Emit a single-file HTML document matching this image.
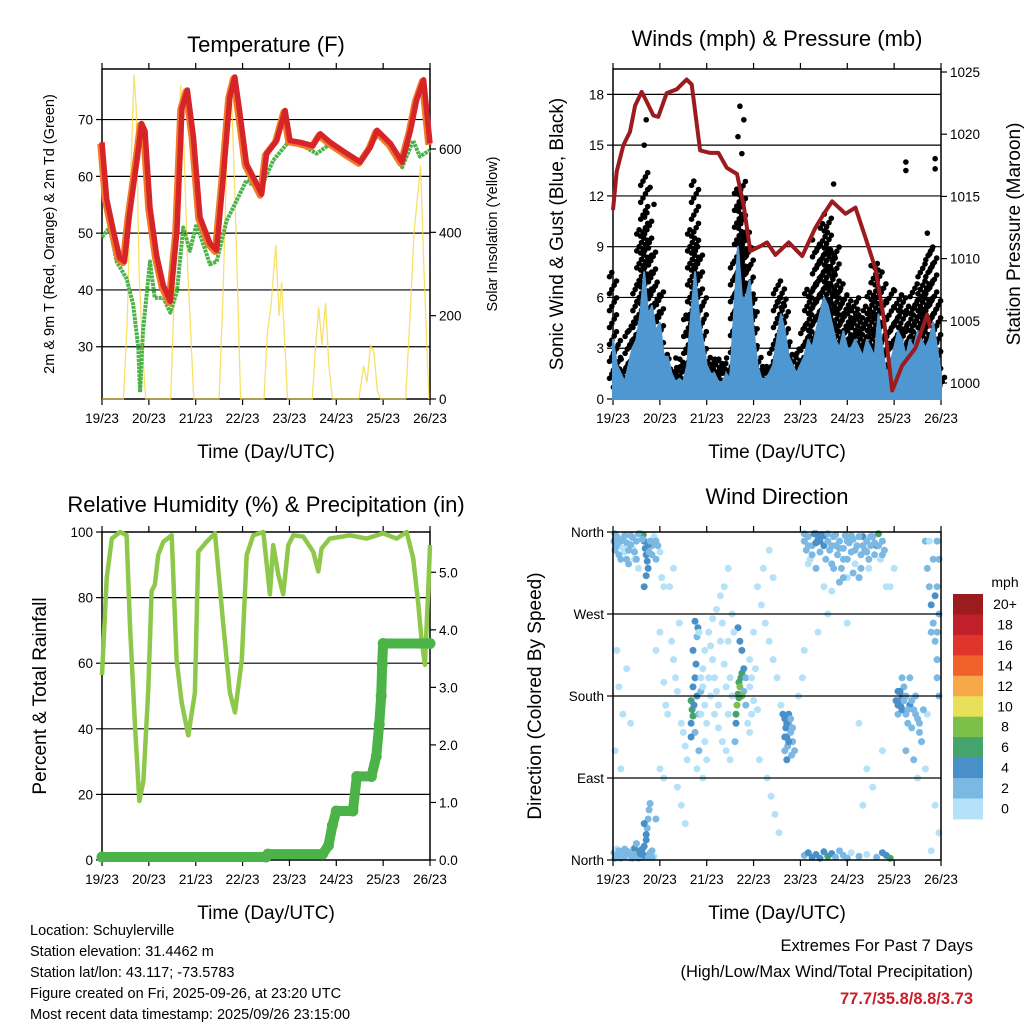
<!DOCTYPE html>
<html><head><meta charset="utf-8">
<style>
html,body{margin:0;padding:0;background:#fff;}
svg{display:block;font-family:"Liberation Sans",Arial,sans-serif;}
</style></head>
<body>
<svg id="chart" width="1024" height="1024" viewBox="0 0 1024 1024" xmlns="http://www.w3.org/2000/svg">
<rect width="1024" height="1024" fill="#fff"/>
<g id="p1"></g>
<g id="p2"></g>
<g id="p3"></g>
<g id="p4"></g>
<g font-size="14.5" fill="#000">
<text x="30" y="935">Location: Schuylerville</text>
<text x="30" y="956">Station elevation: 31.4462 m</text>
<text x="30" y="977">Station lat/lon: 43.117; -73.5783</text>
<text x="30" y="998">Figure created on Fri, 2025-09-26, at 23:20 UTC</text>
<text x="30" y="1019">Most recent data timestamp: 2025/09/26 23:15:00</text>
</g>
<g text-anchor="end">
<text x="973" y="951" font-size="16.5">Extremes For Past 7 Days</text>
<text x="973" y="977" font-size="16.5">(High/Low/Max Wind/Total Precipitation)</text>
<text x="973" y="1004" font-size="16.5" font-weight="bold" fill="#c8202a">77.7/35.8/8.8/3.73</text>
</g>
</svg>
<script>
// ---- data ----
const dayLabels = ["19/23","20/23","21/23","22/23","23/23","24/23","25/23","26/23"];
const tempT = [0,2.4,5.8,9,11.5,14,18,20.3,22,24.6,28,31.4,35,38.4,41,43.7,46.8,50.2,55.3,58.7,62,65.5,68,70.7,74,79.2,81.8,84.3,89.5,93.8,96.3,101.4,108,111.8,116.9,125.5,132.3,137.5,140.9,147.7,153.7,158,161.2,164.7,168];
const tempV = [66,56,50.5,45.7,45,53,63,69.3,68,54.5,46,40.8,38,50.5,72,75.2,67,52.8,48.2,47,59.3,74,77.5,71,62.2,58.7,56.9,64,66.3,71.6,66.3,66,65.4,67.5,66,64,62.5,65.2,68.1,65.8,62.5,68.1,73.5,77,65.8];
const dewT = [0,4,7.5,12.6,16,18.6,19.5,21,24.6,27,31.4,35,38.4,41.6,45,48.4,55.3,58.7,63.8,67.2,74,80.9,87.7,95.4,101.4,109.9,116.9,125.5,132.3,140.9,147.7,153.7,159.4,162.8,168];
const dewV = [49.3,51,45,42,37.4,29.8,22,32.8,45,38.6,38.6,36,39.8,51,46.9,51.6,44.5,45,52.2,54.5,59.3,57.5,62.8,66,65.7,64,65.7,64,62.5,67.2,65.8,61.6,66.3,63.5,64.6];
const solarT = [0,11,13,14.5,16.4,17.5,19,21,22.4,35.2,37,38.5,40.3,42,44,47,60,62,64,66,68,69.5,71,83,84.7,86.5,89,90.7,92,94,95,107.7,109.3,111,112.7,114.5,116.2,118,131.6,134,135.7,137.6,139.3,141,142.7,155.5,158,159.8,161.5,163.2,165,166.6,167.5];
const solarV = [0,0,200,500,778,700,300,100,0,0,250,550,754,600,300,0,0,250,600,770,500,250,0,0,160,220,370,200,280,100,0,0,120,220,130,230,80,0,0,80,40,130,110,20,0,0,220,400,480,560,300,100,0];
const windT = [0,2,4,6,8,10,12,14,16,18,20,22,24,26,28,30,32,34,36,38,40,42,44,46,48,50,52,54,56,58,60,62,64,66,68,70,72,74,76,78,80,82,84,86,88,90,92,94,96,98,100,102,104,106,108,110,112,114,116,118,120,122,124,126,128,130,132,134,136,138,140,142,144,146,148,150,152,154,156,158,160,162,164,166,168];
const windSpd = [3.5,2,1.5,1,2,3,3.5,5,7.5,5,5.5,4,4.5,2.5,2.5,1.5,1,1.2,1,2,5,7.5,5,3.5,2,1.5,1.5,1,1,1.5,1.2,5,9,6,6,7,4,2,1.2,1.2,1.5,2,3.5,5,4,2.5,2,1.5,2,2.5,3.5,3,4,5,6,5.5,4.5,3.5,3,4,3,3,3.5,3,2.5,3.5,3,2.5,5,3,1.5,2,3,4,3.5,2.5,3.5,3,4,3.5,3,3.5,4.5,3,1.5];
const windGust = [7.5,3.5,2,2.5,4,5,7,10,13.5,11,9,7,6.5,3,2.5,2,2,2.5,2.5,5,10,13,9,6,3,2.5,2.5,2.5,2.5,2,2.5,8,12.5,13,10,9,6,3,2,2,2,3,7,6.5,6,3.5,2.5,2.5,3,4.5,6.5,7,9.5,9,10.5,11,9,9,7,6.5,6,5.5,6,5.5,5,5.5,6.5,8,8,7,4,6.5,5,6.5,6,4.5,5.5,7,6,8,7,9,9,6,2];
const gustOutT = [16,17,19,21,64,65,67,66,113,150,150,165,165,161];
const gustOutV = [15,16.5,12.5,11.5,15.5,17.3,16.5,14.5,12.7,14,13.5,14.2,13.6,9.8];
const presT = [0,1.9,5.3,8.7,11.3,14.7,17.3,20.7,23.2,27.5,32.6,37.7,40.3,44.6,49.8,54,58.3,63.5,66.9,70.3,75.5,78.9,83.2,90,96.9,103.7,108,112.2,119.1,124.2,129.3,134.4,138.7,143,148.1,154.9,160.9,162.6];
const presV = [1013.9,1017,1019.1,1020.2,1022.3,1023.4,1022.6,1021.5,1021.4,1023.3,1023.6,1024.4,1024,1018.7,1018.5,1018.5,1017.3,1016.8,1014.3,1010.6,1011,1011.3,1010.3,1011.3,1010.2,1012.5,1013.6,1014.6,1013.6,1014.1,1011.7,1009.2,1005.2,999.4,1001.4,1002.8,1005.5,1004.4];
const rhT = [0,2.4,5,9.2,12.6,14.3,16.9,19.1,21.2,23.7,25.4,27.1,28.8,31.4,35.7,38.2,40.8,44.2,47.6,49.3,53.6,57.9,62.1,65.5,68.1,71.6,74.1,77.5,82.6,86,87.7,90.3,92.8,95.4,98,103.1,108.2,110.8,112.5,116.7,127,135.5,144,150.9,156,159.4,162,163.7,165.4,167.1,168];
const rhV = [56.4,85.9,98,100,99,72,41,18,24,52,82,84,93,97,99,61,48,38,51,94,97,99.6,72,51,45,61,93,99,100,81,96,87,81,96,99,98.6,94,88,95,98,99,98,99.6,98,100,92,78,67,59.5,82,96];
const precipT = [0,84,85,113,116,118,120,128.5,130.5,138,140.5,142,143,143.5,144,168];
const precipV = [0,0,0.05,0.05,0.2,0.55,0.8,0.8,1.4,1.4,1.75,2.3,2.8,3.35,3.71,3.71];
const speedBins = ["0","2","4","6","8","10","12","14","16","18","20+"];
const binColors = ["#b5e2f8","#7bb8e4","#4a90c8","#45a46d","#7cc04a","#e8e05a","#f7a94a","#f0622a","#e0352b","#c0202a","#9b1b1e"];
const dirLabels = ["North","East","South","West","North"];
const windObs = [
[0.5,350,2],[1,340,2],[2,355,2],[3,345,0],[4,330,2],[5,352,2],[6,338,0],[7,348,2],[8,325,2],[9,356,2],[10,342,0],[11,330,0],[12,350,2],[14,358,2],[13,320,0],[20,345,2],[21,355,0],[22,330,2],[24,338,0],[25,310,0],[26,300,0],
[15.5,357,6],[16,350,4],[16.5,342,4],[17,335,4],[17.5,328,4],[18,320,4],[18,346,4],[17,312,4],[16,300,4],[15,352,2],[18.5,338,2],
[0.5,8,2],[1.5,4,2],[2,12,0],[3,5,2],[4,2,2],[5,10,0],[6,6,2],[7,3,2],[8,9,2],[9,2,0],[10,7,2],[11,13,4],[12,5,4],[13,9,4],[14,3,6],[14.5,11,6],[15,6,4],[16,15,4],[17,22,4],[17.5,35,2],[18,45,2],[18.5,55,2],[19,62,2],[20,10,2],[21,4,0],[22,45,2],[16,40,4],[17,28,4],[15,3,2],[12,18,2],
[22,230,0],[24,250,0],[26,195,0],[27,170,0],[28,160,0],[30,240,0],[31,220,0],[32,200,0],[33,185,0],[34,260,0],[35,150,0],[36,140,0],[37,125,0],[38,110,0],[29,300,0],[31,320,0],[33,80,0],[35,60,0],[37,40,0],[24,100,0],[26,90,0],[5,160,0],[3,190,0],[2,230,0],[7,210,0],[9,150,0],[1,120,0],[4,100,0],
[40,175,6],[40.5,165,6],[41,158,6],[41.5,170,4],[40,150,4],[41,190,4],[42,200,4],[42.5,215,4],[43,180,4],[41,230,4],[43.5,255,4],[44,160,2],[42,140,2],[45,185,2],[46,210,0],[47,170,0],[48,150,0],[44,120,2],[43,245,2],[42,262,4],[40,135,4],
[49,250,0],[50,235,0],[51,220,0],[52,200,0],[53,185,0],[54,170,0],[55,240,0],[56,260,0],[57,215,0],[58,190,0],[50,180,0],[52,160,0],[54,145,0],[56,130,0],[58,120,0],[60,110,0],[49,200,0],[51,265,0],[53,275,0],[55,290,0],[57,300,0],[59,320,0],
[63,160,6],[63.5,170,8],[64,182,6],[64.5,195,6],[65,190,8],[65.5,200,6],[66,205,6],[67,210,4],[66,230,4],[65,240,4],[64,255,4],[63,150,4],[62.5,130,2],[67,185,2],[68,170,2],[69,150,0],[70,140,0],[71,160,0],[72,175,0],[68,200,2],[70,220,0],[72,250,0],[66,180,8],[64.5,178,6],
[88,155,4],[88.5,145,4],[89,135,4],[89.5,125,2],[90,150,2],[91,140,2],[91.5,115,2],[89,110,4],[90,160,4],[92,130,2],[88,120,2],
[74,300,0],[76,280,0],[78,260,0],[80,240,0],[82,220,0],[84,200,0],[86,170,0],[75,110,0],[79,90,0],[81,70,0],[83,50,0],[85,30,0],[77,320,0],[80,340,0],[82,310,0],[95,180,0],[97,200,0],[98,230,0],
[98,350,2],[99,340,2],[100,355,2],[101,330,0],[102,345,2],[103,358,4],[104,348,4],[105,352,4],[106,338,2],[107,357,4],[108,345,4],[109,330,2],[110,350,2],[111,340,2],[112,325,2],[113,355,2],[114,345,2],[115,335,2],[116,350,2],[117,320,2],[118,342,2],[119,356,2],[120,330,2],[121,348,2],[122,338,2],[123,352,2],[124,325,0],[125,345,2],[126,310,2],[127,335,2],[128,355,4],[129,340,2],[130,350,2],[131,320,0],[132,345,2],[133,355,2],[134,335,2],[135,345,4],[136,358,6],[137,330,0],[138,350,2],[139,340,2],[140,300,0],[108,300,0],[112,295,0],[116,305,2],[120,310,0],[104,320,2],[100,325,0],
[98,5,2],[100,8,4],[102,3,4],[104,6,4],[106,2,4],[108,9,4],[110,4,6],[112,7,4],[114,3,2],[116,10,2],[118,5,2],[120,2,2],[122,8,0],[126,4,2],[130,6,0],[135,3,2],[138,8,4],[140,5,4],[142,2,6],
[146,185,4],[147,175,4],[147.5,168,4],[148,180,4],[149,190,2],[150,160,2],[151,150,2],[152,170,4],[153,145,2],[154,165,2],[155,180,2],[156,155,2],[157,140,2],[158,130,2],[148,200,2],[146,160,2],[150,120,2],[154,110,2],[156,90,0],[152,200,2],
[160,350,2],[161,320,2],[162,300,2],[163,280,4],[164,260,2],[165,240,2],[166,220,2],[164,330,2],[166,200,2],[165,290,4],[163,250,2],[162,350,0],[161,160,0],[167,30,0],[165,60,0],[160,100,0],[163,10,0],
[130,100,0],[133,80,0],[128,60,0],[138,120,0],[142,300,0],[144,320,0],[126,150,0],[120,260,0],[110,270,0],[105,250,0],
[1,358,2],[2,345,2],[3,335,2],[4,350,2],[5,342,0],[6,356,2],[7,330,2],[8,340,2],[9,346,2],[10,354,2],[11,338,2],[12,330,2],[13,358,2],[19,350,2],[20,335,2],[22,350,2],[23,345,2],
[1,2,2],[2,5,2],[3,10,2],[5,3,2],[6,12,2],[7,8,2],[9,5,2],[10,2,2],[11,6,2],[13,2,2],[14,7,4],[15,12,4],[16,5,4],[18,3,2],[19,8,2],[20,3,2],
[45,200,0],[46,190,0],[47,230,0],[44,250,0],[45,160,0],[47,130,0],[48,110,0],[43,100,0],[46,90,0],[60,200,0],[61,180,0],[59,160,0],[62,250,0],[61,270,0],[59,240,0],[70,190,0],[71,200,0],[73,210,0],[74,165,0],
[98,358,2],[100,345,2],[102,335,2],[104,358,4],[106,350,4],[108,356,4],[110,358,2],[112,345,2],[114,357,2],[116,342,2],[118,330,2],[120,350,2],[122,356,2],[124,340,2],[126,355,2],[128,345,2],[130,338,2],[132,355,2],[134,348,2],[136,345,2],[138,335,2],[113,320,2],[118,310,2],[123,315,2],[127,320,2],[131,330,2],
[145,175,4],[146,170,4],[147,185,4],[148,165,4],[149,175,2],[150,180,2],[151,165,2],[153,175,2],[155,160,2],[157,150,2],[159,165,2],
[166,300,2],[167,270,2],[166,250,2],[167,330,2],[166,350,2],[167,180,2],
[87,160,4],[88,135,4],[89,150,4],[90,130,4],[91,155,2],[92,145,2],[93,120,2]
];

// ---- helpers ----
const NS = "http://www.w3.org/2000/svg";
function mk(parent, tag, attrs, name, txt){
  const e = document.createElementNS(NS, tag);
  for (const k in attrs) e.setAttribute(k, attrs[k]);
  
  
  if (txt !== undefined) e.textContent = txt;
  parent.appendChild(e);
  return e;
}
function lin(d0,d1,r0,r1){ return v => r0 + (v-d0)/(d1-d0)*(r1-r0); }
function pathFrom(ts, vs, xf, yf){
  return ts.map((t,i)=>(i?'L':'M')+xf(t).toFixed(1)+','+yf(vs[i]).toFixed(1)).join(' ');
}
function frame(g, x0, y0, x1, y1, xf, yL, leftTicks, leftLabels, gridVals, yR, rightTicks, rightLabels, title, titleY, leftTitle, rightTitle, ltSize, rtSize){
  gridVals.forEach(v=>{
    mk(g,'line',{x1:x0,x2:x1,y1:yL(v),y2:yL(v),stroke:'#000','stroke-width':1.2},'grid-line');
  });
  mk(g,'rect',{x:x0,y:y0,width:x1-x0,height:y1-y0,fill:'none',stroke:'#000','stroke-width':1.5},'plot-frame');
  dayLabels.forEach((lab,i)=>{
    const x = xf(i*24);
    mk(g,'line',{x1:x,x2:x,y1:y1,y2:y1+6,stroke:'#000','stroke-width':1.2},'x-tick');
    mk(g,'line',{x1:x,x2:x,y1:y0,y2:y0-6,stroke:'#000','stroke-width':1.2},'x-tick-top');
    mk(g,'text',{x:x,y:y1+24,'font-size':13.5,'text-anchor':'middle'},'x-tick-label',lab);
  });
  mk(g,'text',{x:(x0+x1)/2,y:y1+59,'font-size':19,'text-anchor':'middle'},'x-axis-title','Time (Day/UTC)');
  leftTicks.forEach((v,i)=>{
    const y = yL(v);
    mk(g,'line',{x1:x0-6,x2:x0,y1:y,y2:y,stroke:'#000','stroke-width':1.2},'y-tick');
    mk(g,'text',{x:x0-9,y:y+5,'font-size':13.5,'text-anchor':'end'},'y-tick-label',leftLabels[i]);
  });
  if (yR) rightTicks.forEach((v,i)=>{
    const y = yR(v);
    mk(g,'line',{x1:x1,x2:x1+6,y1:y,y2:y,stroke:'#000','stroke-width':1.2},'y2-tick');
    mk(g,'text',{x:x1+9,y:y+5,'font-size':13.5,'text-anchor':'start'},'y2-tick-label',rightLabels[i]);
  });
  mk(g,'text',{x:(x0+x1)/2,y:titleY,'font-size':22,'text-anchor':'middle'},'panel-title',title);
  const cy=(y0+y1)/2;
  mk(g,'text',{x:0,y:0,'font-size':ltSize,'text-anchor':'middle',transform:`translate(${leftTitle[1]},${cy}) rotate(-90)`},'y-axis-title',leftTitle[0]);
  if (rightTitle) mk(g,'text',{x:0,y:0,'font-size':rtSize,'text-anchor':'middle',transform:`translate(${rightTitle[1]},${cy}) rotate(-90)`},'y2-axis-title',rightTitle[0]);
}

// ---- panel 1 temperature ----
(function(){
  const g = document.getElementById('p1');
  const xf = lin(0,168,102,430), yL = lin(20.8,78.9,399,69), yR = lin(0,792,399,69);
  frame(g,102,69,430,399,xf,yL,[30,40,50,60,70],["30","40","50","60","70"],[30,40,50,60,70],yR,[0,200,400,600],["0","200","400","600"],
    'Temperature (F)',52,['2m & 9m T (Red, Orange) & 2m Td (Green)',54],['Solar Insolation (Yellow)',497],14.5,14.5);
  mk(g,'path',{d:pathFrom(solarT,solarV,xf,yR),fill:'none',stroke:'#f8d840','stroke-width':1.3,'stroke-opacity':0.8},'solar-line');
  mk(g,'path',{d:pathFrom(dewT,dewV,xf,yL),fill:'none',stroke:'#4bb347','stroke-width':4,'stroke-dasharray':'3 0.8','stroke-linejoin':'round'},'dewpoint-line');
  mk(g,'path',{d:pathFrom(tempT,tempV,xf,yL),fill:'none',stroke:'#f07a28','stroke-width':6.5,'stroke-linejoin':'round',transform:'translate(-1.5,1.5)'},'temp-9m-line');
  mk(g,'path',{d:pathFrom(tempT,tempV,xf,yL),fill:'none',stroke:'#d62428','stroke-width':5.5,'stroke-linejoin':'round'},'temp-2m-line');
})();

// ---- panel 2 winds ----
(function(){
  const g = document.getElementById('p2');
  const xf = lin(0,168,613,941), yL = lin(0,19.5,399,69), yR = lin(1000,1025,383,72);
  frame(g,613,69,941,399,xf,yL,[0,3,6,9,12,15,18],["0","3","6","9","12","15","18"],[3,6,9,12,15,18],yR,[1000,1005,1010,1015,1020,1025],["1000","1005","1010","1015","1020","1025"],
    'Winds (mph) & Pressure (mb)',46,['Sonic Wind & Gust (Blue, Black)',563],['Station Pressure (Maroon)',1020],19,19);
  const dots = mk(g,'g',{fill:'#000'},'gust-dots');
  const offs=[-3.5,-1.2,1.2,3.5];
  windT.forEach((t,i)=>{
    const lo = Math.max(0.3, windSpd[i]*0.35), hi = windGust[i];
    let k=0;
    for (let v=lo; v<=hi+0.01; v+=0.25){
      const c = document.createElementNS(NS,'circle');
      c.setAttribute('cx',(xf(t)+offs[k%4]).toFixed(1));
      c.setAttribute('cy',yL(v).toFixed(1));
      c.setAttribute('r',2.8);
      
      
      dots.appendChild(c); k++;
    }
  });
  gustOutT.forEach((t,i)=>{
    mk(dots,'circle',{cx:xf(t),cy:yL(gustOutV[i]),r:2.8},'gust-outlier');
  });
  let d = 'M'+xf(windT[0])+','+yL(0)+' '+windT.map((t,i)=>'L'+xf(t).toFixed(1)+','+yL(windSpd[i]).toFixed(1)).join(' ')+' L'+xf(168)+','+yL(0)+' Z';
  mk(g,'path',{d:d,fill:'#4f97d0',stroke:'#4f97d0','stroke-width':2,'stroke-linejoin':'round'},'wind-speed-area');
  mk(g,'path',{d:pathFrom(presT,presV,xf,yR),fill:'none',stroke:'#9b1b1e','stroke-width':4,'stroke-linejoin':'round'},'pressure-line');
})();

// ---- panel 3 humidity ----
(function(){
  const g = document.getElementById('p3');
  const xf = lin(0,168,102,430), yL = lin(0,100,860,532), yR = lin(0,5.7,860,532);
  frame(g,102,532,430,860,xf,yL,[0,20,40,60,80,100],["0","20","40","60","80","100"],[20,40,60,80],yR,[0,1,2,3,4,5],["0.0","1.0","2.0","3.0","4.0","5.0"],
    'Relative Humidity (%) & Precipitation (in)',512,['Percent & Total Rainfall',46],null,19,19);
  mk(g,'path',{d:pathFrom(rhT,rhV,xf,yL),fill:'none',stroke:'#8ec84a','stroke-width':4.5,'stroke-linejoin':'round'},'rh-line');
  mk(g,'path',{d:pathFrom(precipT,precipV,xf,yR),fill:'none',stroke:'#4bb347','stroke-width':10,'stroke-linejoin':'round','stroke-linecap':'round',transform:'translate(0,-3)'},'precip-line');
  precipT.forEach((t,i)=>{
    mk(g,'circle',{cx:xf(t),cy:yR(precipV[i])-3,r:5.5,fill:'#4bb347'},'precip-dot');
  });
})();

// ---- panel 4 wind direction ----
(function(){
  const g = document.getElementById('p4');
  const xf = lin(0,168,613,941), yD = lin(0,360,860,532);
  const pts = mk(g,'g',{},'direction-dots');
  windObs.forEach(o=>{
    const bi = Math.min(10, Math.max(0, Math.round(o[2]/2)));
    const c = document.createElementNS(NS,'circle');
    c.setAttribute('cx',xf(o[0]).toFixed(1));
    c.setAttribute('cy',yD(o[1]).toFixed(1));
    c.setAttribute('r',3.5);
    c.setAttribute('fill',binColors[bi]);
    
    
    pts.appendChild(c);
  });
  frame(g,613,532,941,860,xf,yD,[0,90,180,270,360],dirLabels,[90,180,270],null,[],[],
    'Wind Direction',504,['Direction (Colored By Speed)',541],null,19,19);
  const leg = mk(g,'g',{},'speed-colorbar');
  const top=594, h=20.45;
  mk(leg,'text',{x:1005,y:587,'font-size':14,'text-anchor':'middle'},'colorbar-unit','mph');
  for (let i=0;i<speedBins.length;i++){
    const j = speedBins.length-1-i;
    mk(leg,'rect',{x:953,y:top+i*h,width:30,height:h+0.5,fill:binColors[j]},'colorbar-swatch');
    mk(leg,'text',{x:1005,y:top+i*h+15,'font-size':14,'text-anchor':'middle'},'colorbar-label',speedBins[j]);
  }
})();
</script>
</body></html>
